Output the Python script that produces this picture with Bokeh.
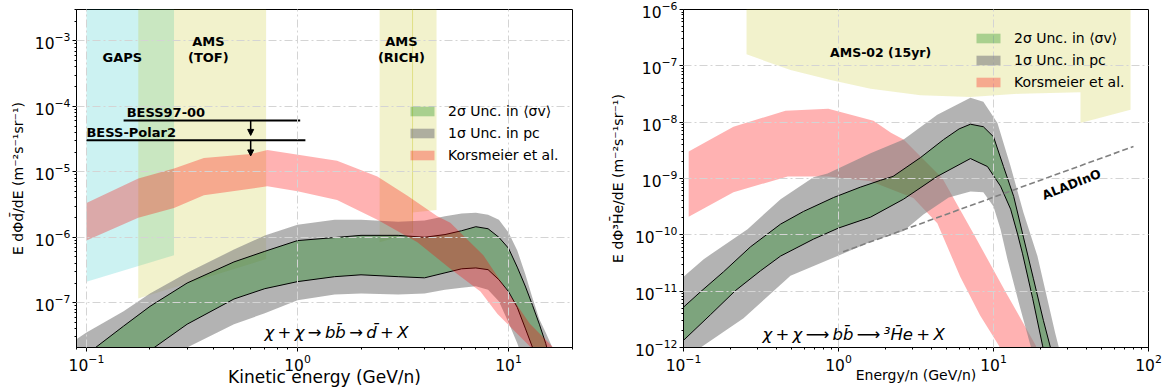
from bokeh.plotting import figure
from bokeh.layouts import row
from bokeh.models import (Range1d, FixedTicker, LogTickFormatter, Legend, LegendItem,
                          Arrow, NormalHead, Label)
from bokeh.embed import file_html
from bokeh.resources import INLINE

FONT = "DejaVu Sans"
H = 392

# ---------------- Left panel: antideuteron flux ----------------
dbar_x = [0.09, 0.1, 0.15, 0.2, 0.3, 0.5, 0.7, 1, 1.5, 2, 3, 4, 5, 6, 7, 8, 9, 10,
          11, 12, 13, 14, 15, 16, 17]
dbar_hi = [1.3e-8, 1.62e-8, 4.4e-8, 8.8e-8, 2.0e-7, 4.2e-7, 6.1e-7, 8.9e-7, 9.9e-7,
           1.07e-6, 1.07e-6, 1.0e-6, 1.1e-6, 1.26e-6, 1.45e-6, 1.35e-6, 1.0e-6, 6.8e-7,
           3.5e-7, 1.8e-7, 9.1e-8, 4.7e-8, 2.4e-8, 1.1e-8, 5e-9]
dbar_lo = [2.8e-9, 4e-9, 9.7e-9, 1.86e-8, 4.7e-8, 1.14e-7, 1.64e-7, 2.1e-7, 2.5e-7,
           2.67e-7, 2.5e-7, 2.4e-7, 2.86e-7, 3.3e-7, 3.4e-7, 3.2e-7, 2.25e-7, 1.48e-7,
           8.5e-8, 4.1e-8, 2.07e-8, 1.1e-8, 5.5e-9, 2.7e-9, 1.3e-9]
dbar_pc_hi = [2.8e-8, 3.5e-8, 7.4e-8, 1.38e-7, 2.86e-7, 6.5e-7, 1.06e-6, 1.56e-6, 1.85e-6,
              1.85e-6, 1.73e-6, 1.8e-6, 2.1e-6, 2.3e-6, 2.36e-6, 2.2e-6, 1.85e-6, 1.18e-6,
              6.3e-7, 2.75e-7, 1.17e-7, 5.6e-8, 3.5e-8, 2.2e-8, 1.3e-8]
dbar_pc_lo_x = [0.09, 0.1, 0.15, 0.2, 0.3, 0.5, 0.7, 1, 1.5, 2, 3, 4, 5, 6, 7, 8, 9, 10,
                11, 12, 13]
dbar_pc_lo = [1.4e-9, 1.8e-9, 4.5e-9, 9e-9, 2.07e-8, 4.7e-8, 6.9e-8, 1.09e-7, 1.34e-7,
              1.38e-7, 1.34e-7, 1.38e-7, 1.58e-7, 1.7e-7, 1.78e-7, 1.58e-7, 1.05e-7, 5e-8,
              2.4e-8, 1.1e-8, 5e-9]

kors_d_up_x = [0.1, 0.176, 0.26, 0.36, 0.6, 0.72, 1.54, 2.39, 3.32, 4.6, 5.3, 7.6, 9.9,
               12.6, 16.3, 17.5]
kors_d_up = [3.33e-6, 7.9e-6, 1.12e-5, 1.63e-5, 1.87e-5, 2.15e-5, 1.47e-5, 8.5e-6, 4.3e-6,
             2.1e-6, 1.67e-6, 5.3e-7, 1.48e-7, 4.8e-8, 2.07e-8, 1.2e-8]
kors_d_lo_x = [0.1, 0.176, 0.26, 0.36, 0.72, 1.0, 1.54, 2.39, 3.7, 5.3, 7.36, 8.87,
               12.7, 14]
kors_d_lo = [8.95e-7, 1.98e-6, 2.8e-6, 4.4e-6, 6.0e-6, 5.05e-6, 3.7e-6, 1.85e-6, 8.4e-7,
             3.3e-7, 1.48e-7, 6.7e-8, 2.1e-8, 1.3e-8]

gaps_x = [0.1, 0.26]
gaps_floor = [2.1e-7, 5.3e-7]
tof_x = [0.176, 0.71]
tof_floor = [1.16e-7, 4.65e-7]
rich_x = [2.45, 3.51, 3.51, 4.56]
rich_floor = [8.4e-7, 1.17e-6, 2.4e-6, 2.6e-6]

bess9700_x = [0.15, 1.03]
bess9700_y = [6.08e-5, 6.08e-5]
bess9700_arrow = [0.6, 6.08e-5, 3.6e-5]
bessp2_x = [0.1, 1.09]
bessp2_y = [3.04e-5, 3.04e-5]
bessp2_arrow = [0.6, 3.04e-5, 1.75e-5]

# ---------------- Right panel: antihelium-3 flux ----------------
he_hi_x = [0.1, 0.129, 0.181, 0.27, 0.423, 0.594, 0.93, 1.38, 1.87, 2.25, 3.38, 4.76,
           6.0, 7.1, 8.6, 10.0, 11.6, 13.5, 15.6, 18.1, 21.0, 23.3, 25]
he_hi = [5.2e-12, 9.8e-12, 2.2e-11, 6.1e-11, 1.55e-10, 2.6e-10, 4.6e-10, 7.0e-10, 9.3e-10,
         1.09e-9, 2.35e-9, 4.9e-9, 7.6e-9, 9.2e-9, 8.3e-9, 5.5e-9, 1.63e-9, 4.8e-10,
         9.1e-11, 1.66e-11, 3.0e-12, 1.0e-12, 4e-13]
he_lo_x = [0.1, 0.149, 0.216, 0.314, 0.423, 0.69, 1.0, 1.61, 2.63, 4.34, 7.1, 9.14, 11.1,
           12.9, 14.3, 15.4, 17.9, 20.7, 23.3]
he_lo = [1.34e-12, 3.8e-12, 1.02e-11, 2.3e-11, 4.2e-11, 8.4e-11, 1.32e-10, 2.06e-10,
         4.3e-10, 1.09e-9, 2.26e-9, 1.63e-9, 7.3e-10, 2.85e-10, 1.03e-10, 4.6e-11, 7.4e-12,
         1.1e-12, 2.5e-13]
he_pc_hi_x = [0.1, 0.135, 0.259, 0.423, 0.69, 0.85, 1.61, 2.63, 4.34, 7.1, 8.6, 10.6, 12.9,
              15.6, 19.2, 25, 27.2]
he_pc_hi = [1.8e-11, 3.7e-11, 1.26e-10, 4.3e-10, 1.05e-9, 1.23e-9, 2.8e-9, 4.9e-9, 1.35e-8,
            2.7e-8, 2.3e-8, 9.7e-9, 1.63e-9, 2.5e-10, 4.2e-11, 1.8e-12, 7.3e-13]
he_pc_lo_x = [0.1, 0.129, 0.244, 0.49, 0.985, 1.61, 2.63, 3.53, 5.14, 7.1, 8.6, 10.0, 11.1,
              12.3, 14.5, 17.3, 18.7]
he_pc_lo = [6.5e-13, 1e-12, 3.3e-12, 1.87e-11, 4.2e-11, 7.5e-11, 1.17e-10, 2.3e-10, 4.6e-10,
            5.9e-10, 5.7e-10, 3.2e-10, 1.26e-10, 3.7e-11, 6.5e-12, 1.1e-12, 5e-13]

kors_he_up_x = [0.108, 0.149, 0.21, 0.455, 0.86, 1.68, 2.18, 2.63, 4.69, 7.5, 11.9, 18.7, 21]
kors_he_up = [3.0e-9, 4.9e-9, 8.3e-9, 1.6e-8, 1.73e-8, 1.06e-8, 6.5e-9, 4.9e-9, 1e-9, 1e-10,
              1e-11, 1.1e-12, 4e-13]
kors_he_lo_x = [0.108, 0.21, 0.47, 0.86, 1.61, 3.04, 4.34, 6.1, 8.2, 10.8, 11.6]
kors_he_lo = [2.1e-10, 5.7e-10, 1.09e-9, 1.09e-9, 8.9e-10, 4.5e-10, 1.6e-10, 1.8e-11,
              3.7e-12, 1.1e-12, 7e-13]

ams02_x = [0.255, 0.49, 0.89, 1.61, 3.38, 7.1, 14.9, 36.4, 36.4, 76.6]
ams02_floor = [1.6e-7, 8.4e-8, 5.6e-8, 3.9e-8, 3.0e-8, 2.8e-8, 3.2e-8, 3.4e-8, 9.7e-9, 1.66e-8]

aladino_x = [1.07, 80]
aladino_y = [5e-11, 3.7e-9]

legend_labels = ["2σ Unc. in ⟨σv⟩", "1σ Unc. in pᴄ", "Korsmeier et al."]

CEIL = 1e-2


def band(xu, yu, xl, yl):
    return list(xu) + list(xl)[::-1], list(yu) + list(yl)[::-1]


def region(xs, floor, top):
    return [xs[0]] + list(xs) + [xs[-1]], [top] + list(floor) + [top]


def decades(lo, hi):
    majors = [10.0 ** e for e in range(lo, hi + 1)]
    minors = [m * 10.0 ** e for e in range(lo - 1, hi + 1) for m in range(2, 10)]
    return majors, minors


def make_fig(width, xr, yr, bl, br, bt, bb, xdec, ydec, xlabel, xls, ylabel, yls):
    p = figure(width=width, height=H, x_axis_type="log", y_axis_type="log",
               x_range=Range1d(*xr), y_range=Range1d(*yr), output_backend="svg",
               toolbar_location=None, min_border_left=bl, min_border_right=br,
               min_border_top=bt, min_border_bottom=bb)
    p.outline_line_color = "black"
    p.outline_line_alpha = 1.0
    p.outline_line_width = 1
    xm, xn = decades(*xdec)
    ym, yn = decades(*ydec)
    p.xaxis.ticker = FixedTicker(ticks=xm, minor_ticks=xn)
    p.yaxis.ticker = FixedTicker(ticks=ym, minor_ticks=yn)
    p.xgrid.ticker = FixedTicker(ticks=xm)
    p.ygrid.ticker = FixedTicker(ticks=ym)
    p.xaxis.formatter = LogTickFormatter()
    p.yaxis.formatter = LogTickFormatter()
    p.grid.grid_line_color = "#d4d4d4"
    p.grid.grid_line_dash = "8 3 2 3"
    p.grid.grid_line_width = 1
    p.grid.level = "guide"
    p.axis.axis_line_color = "black"
    p.axis.major_tick_line_color = "black"
    p.axis.minor_tick_line_color = "black"
    p.axis.major_tick_out = 4
    p.axis.major_tick_in = 0
    p.axis.minor_tick_out = 2
    p.axis.minor_tick_in = 0
    p.axis.major_label_text_font = FONT
    p.axis.major_label_text_font_size = "15.5px"
    p.axis.major_label_text_color = "black"
    p.axis.major_label_standoff = 2
    p.xaxis.axis_label = xlabel
    p.yaxis.axis_label = ylabel
    p.xaxis.axis_label_text_font_size = xls
    p.yaxis.axis_label_text_font_size = yls
    p.axis.axis_label_text_font = FONT
    p.axis.axis_label_text_font_style = "normal"
    p.axis.axis_label_text_color = "black"
    p.xaxis.axis_label_standoff = -7
    p.yaxis.axis_label_standoff = 6
    return p


def lab(p, x, y, text, size, style="bold", align="center", angle=0.0):
    p.add_layout(Label(x=x, y=y, text=text, text_font=FONT, text_font_size=size,
                       text_font_style=style, text_align=align, text_baseline="middle",
                       angle=angle, text_color="black"))


def add_legend(p, rs, vx, vy):
    leg = Legend(items=[LegendItem(label=t, renderers=[r]) for t, r in zip(legend_labels, rs)],
                 location=(vx, vy), background_fill_alpha=0, border_line_alpha=0,
                 padding=0, margin=0, spacing=5, glyph_width=30, glyph_height=12,
                 label_height=17, label_standoff=11, label_text_font=FONT,
                 label_text_font_size="14px", label_text_color="black")
    p.add_layout(leg)


# ================= Left figure =================
p1 = make_fig(598, (0.0897, 20.1), (2.07e-8, 3.02e-3), 76, 26, 3, 45, (-1, 1), (-7, -3),
              "Kinetic energy (GeV/n)", "17px", "E dΦd̄/dE (m⁻²s⁻¹sr⁻¹)", "14px")

gx, gy = region(gaps_x, gaps_floor, CEIL)
p1.patch(gx, gy, fill_color="#00bfbf", fill_alpha=0.2, line_alpha=0)
tx, ty = region(tof_x, tof_floor, CEIL)
p1.patch(tx, ty, fill_color="#bfbf00", fill_alpha=0.2, line_alpha=0)
rx, ry = region(rich_x, rich_floor, CEIL)
p1.patch(rx, ry, fill_color="#bfbf00", fill_alpha=0.2, line_alpha=0)
p1.line([rich_x[1], rich_x[1]], [rich_floor[1], CEIL], line_color="#bfbf00", line_alpha=0.35,
        line_width=1)

bx, by = band(dbar_x, dbar_pc_hi, dbar_pc_lo_x, dbar_pc_lo)
r_gray1 = p1.patch(bx, by, fill_color="gray", fill_alpha=0.6, line_alpha=0)
bx, by = band(dbar_x, dbar_hi, dbar_x, dbar_lo)
r_green1 = p1.patch(bx, by, fill_color="green", fill_alpha=0.3, line_alpha=0)
p1.line(dbar_x, dbar_hi, line_color="black", line_width=1)
p1.line(dbar_x, dbar_lo, line_color="black", line_width=1)
bx, by = band(kors_d_up_x, kors_d_up, kors_d_lo_x, kors_d_lo)
r_red1 = p1.patch(bx, by, fill_color="red", fill_alpha=0.3, line_alpha=0)

p1.line(bess9700_x, bess9700_y, line_color="black", line_width=2)
p1.line(bessp2_x, bessp2_y, line_color="black", line_width=2)
for ax_, y0, y1 in (bess9700_arrow, bessp2_arrow):
    p1.add_layout(Arrow(end=NormalHead(size=6, line_color="black", fill_color="black",
                                       line_width=1),
                        x_start=ax_, y_start=y0, x_end=ax_, y_end=y1,
                        line_color="black", line_width=1.5))

lab(p1, 0.148, 5.65e-4, "GAPS", "13px")
lab(p1, 0.378, 9.8e-4, "AMS", "13px")
lab(p1, 0.378, 5.55e-4, "(TOF)", "13px")
lab(p1, 3.11, 9.8e-4, "AMS", "13px")
lab(p1, 3.11, 5.55e-4, "(RICH)", "13px")
lab(p1, 0.155, 8.0e-5, "BESS97-00", "13px", align="left")
lab(p1, 0.1, 4.0e-5, "BESS-Polar2", "13px", align="left")
lab(p1, 0.698, 3.5e-8, "χ\u2009+\u2009χ\u2009→\u2009bb\u0304\u2009→\u2009d\u0304\u2009+\u2009X",
    "16.5px", style="italic", align="left")

add_legend(p1, [r_green1, r_gray1, r_red1], 331, 184)

# ================= Right figure =================
p2 = make_fig(574, (0.1, 100), (1e-12, 1e-6), 85, 24, 9, 43, (-1, 2), (-12, -6),
              "Energy/n (GeV/n)", "14px", "E dΦ³H\u0304e/dE (m⁻²s⁻¹sr⁻¹)", "14px")

ax2, ay2 = region(ams02_x, ams02_floor, CEIL)
p2.patch(ax2, ay2, fill_color="#bfbf00", fill_alpha=0.2, line_alpha=0)

bx, by = band(kors_he_up_x, kors_he_up, kors_he_lo_x, kors_he_lo)
r_red2 = p2.patch(bx, by, fill_color="red", fill_alpha=0.3, line_alpha=0)
bx, by = band(he_pc_hi_x, he_pc_hi, he_pc_lo_x, he_pc_lo)
r_gray2 = p2.patch(bx, by, fill_color="gray", fill_alpha=0.6, line_alpha=0)
bx, by = band(he_hi_x, he_hi, he_lo_x, he_lo)
r_green2 = p2.patch(bx, by, fill_color="green", fill_alpha=0.3, line_alpha=0)
p2.line(he_hi_x, he_hi, line_color="black", line_width=1)
p2.line(he_lo_x, he_lo, line_color="black", line_width=1)
p2.line(aladino_x, aladino_y, line_color="gray", line_width=1.6, line_dash="6 3")

lab(p2, 1.87, 1.75e-7, "AMS-02 (15yr)", "12.5px")
lab(p2, 31.8, 7.9e-10, "ALADInO", "12.5px", angle=0.38)
lab(p2, 0.323, 1.71e-12,
    "χ\u2009+\u2009χ\u2009⟶\u2009bb\u0304\u2009⟶\u2009³H\u0304e\u2009+\u2009X",
    "16.5px", style="italic", align="left")

add_legend(p2, [r_green2, r_gray2, r_red2], 290, 257)

layout = row(p1, p2)
open("out.html", "w").write(file_html(layout, INLINE))
